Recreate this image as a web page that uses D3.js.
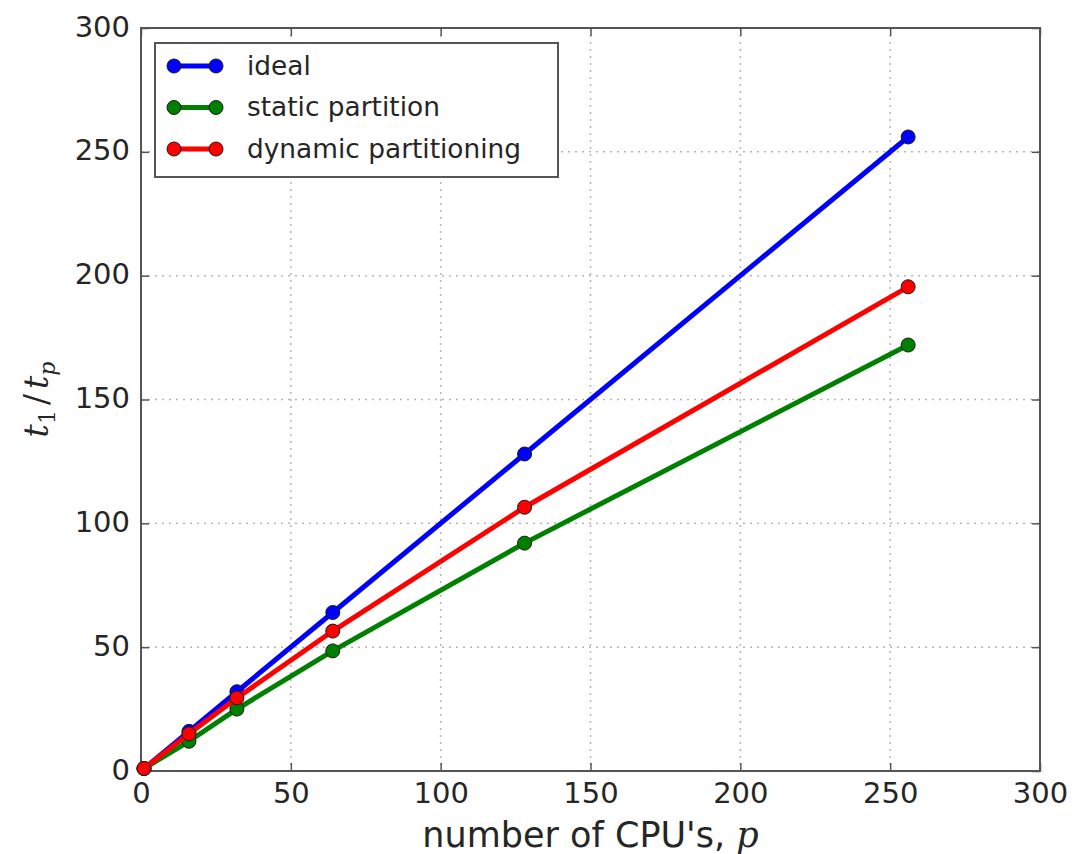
<!DOCTYPE html>
<html>
<head>
<meta charset="utf-8">
<script src="https://cdn.jsdelivr.net/npm/d3@7"></script>
<style>
  html, body { margin: 0; padding: 0; background: #fff; }
  svg { display: block; font-family: "DejaVu Sans", sans-serif; }
</style>
</head>
<body>
<svg id="chart" width="1072" height="854"></svg>
<script>
// Speedup t1/tp versus number of CPUs
const cpus = [1, 16, 32, 64, 128, 256];
const ideal = [1, 16, 32, 64, 128, 256];
const staticPartition = [1, 12, 25, 48.5, 92, 172];
const dynamicPartitioning = [1, 15, 29.5, 56.5, 106.5, 195.5];

const seriesNames = ["ideal", "static partition", "dynamic partitioning"];
const seriesColors = ["#0000ff", "#008000", "#ff0000"];
const xTicks = [0, 50, 100, 150, 200, 250, 300];
const yTicks = [0, 50, 100, 150, 200, 250, 300];

const series = [ideal, staticPartition, dynamicPartitioning].map((vals, i) => ({
  name: seriesNames[i],
  color: seriesColors[i],
  points: vals.map((v, j) => ({ p: cpus[j], s: v }))
}));

const svg = d3.select("#chart");
const plot = { left: 141, right: 1040, top: 28, bottom: 771 };

const x = d3.scaleLinear().domain([0, 300]).range([plot.left, plot.right]);
const y = d3.scaleLinear().domain([0, 300]).range([plot.bottom, plot.top]);

const textColor = "#262626";
const spineColor = "#555";

// dotted grid
const grid = svg.append("g");
grid.selectAll("line.gx").data(xTicks.slice(1, -1)).join("line")
  .attr("x1", d => x(d)).attr("x2", d => x(d))
  .attr("y1", plot.top).attr("y2", plot.bottom)
  .attr("stroke", "#b5b5b5").attr("stroke-width", 1.5)
  .attr("stroke-dasharray", "2,5");
grid.selectAll("line.gy").data(yTicks.slice(1, -1)).join("line")
  .attr("y1", d => y(d)).attr("y2", d => y(d))
  .attr("x1", plot.left).attr("x2", plot.right)
  .attr("stroke", "#b5b5b5").attr("stroke-width", 1.5)
  .attr("stroke-dasharray", "2,5");

// axes with inward ticks on all four sides
function styleAxis(g) {
  g.select(".domain").remove();
  g.selectAll(".tick line").attr("stroke", spineColor).attr("stroke-width", 1.5);
  g.selectAll(".tick text").attr("fill", textColor)
    .style("font-family", "'DejaVu Sans', sans-serif").style("font-size", "29px");
}

svg.append("g").attr("transform", `translate(0,${plot.bottom})`)
  .call(d3.axisBottom(x).tickValues(xTicks).tickFormat(d3.format("d"))
    .tickSizeInner(-8).tickSizeOuter(0).tickPadding(11))
  .call(styleAxis)
  .call(g => g.selectAll(".tick text").attr("dy", "0.71em"));

svg.append("g").attr("transform", `translate(${plot.left},0)`)
  .call(d3.axisLeft(y).tickValues(yTicks).tickFormat(d3.format("d"))
    .tickSizeInner(-8).tickSizeOuter(0).tickPadding(11))
  .call(styleAxis)
  .call(g => g.selectAll(".tick text").attr("dy", "0.28em"));

svg.append("g").attr("transform", `translate(0,${plot.top})`)
  .call(d3.axisTop(x).tickValues(xTicks).tickFormat("").tickSizeInner(-8).tickSizeOuter(0))
  .call(styleAxis);

svg.append("g").attr("transform", `translate(${plot.right},0)`)
  .call(d3.axisRight(y).tickValues(yTicks).tickFormat("").tickSizeInner(-8).tickSizeOuter(0))
  .call(styleAxis);

// frame
svg.append("rect")
  .attr("x", plot.left).attr("y", plot.top)
  .attr("width", plot.right - plot.left).attr("height", plot.bottom - plot.top)
  .attr("fill", "none").attr("stroke", spineColor).attr("stroke-width", 2);

// lines and markers
const line = d3.line().x(d => x(d.p)).y(d => y(d.s));
const marks = svg.append("g");
series.forEach(s => {
  const g = marks.append("g");
  g.append("path").datum(s.points)
    .attr("d", line).attr("fill", "none")
    .attr("stroke", s.color).attr("stroke-width", 5)
    .attr("stroke-linejoin", "round");
  g.selectAll("circle").data(s.points).join("circle")
    .attr("cx", d => x(d.p)).attr("cy", d => y(d.s)).attr("r", 7)
    .attr("fill", s.color).attr("stroke", "#1a1a1a").attr("stroke-width", 1);
});

// legend
const legend = svg.append("g");
legend.append("rect")
  .attr("x", 155).attr("y", 43).attr("width", 403).attr("height", 134)
  .attr("fill", "#fff").attr("stroke", spineColor).attr("stroke-width", 2);
series.forEach((s, i) => {
  const ly = 66 + i * 41.5;
  legend.append("line")
    .attr("x1", 174).attr("x2", 216).attr("y1", ly).attr("y2", ly)
    .attr("stroke", s.color).attr("stroke-width", 5);
  [174, 216].forEach(cx => legend.append("circle")
    .attr("cx", cx).attr("cy", ly).attr("r", 7)
    .attr("fill", s.color).attr("stroke", "#1a1a1a").attr("stroke-width", 1));
  legend.append("text")
    .attr("x", 247).attr("y", ly).attr("dy", "0.33em")
    .attr("fill", textColor).style("font-size", "26.4px")
    .text(s.name);
});

// axis labels
const xl = svg.append("text")
  .attr("x", (plot.left + plot.right) / 2).attr("y", 847)
  .attr("text-anchor", "middle").attr("fill", textColor)
  .style("font-size", "35px");
xl.append("tspan").text("number of CPU's, ");
xl.append("tspan").style("font-family", "'DejaVu Serif', serif")
  .style("font-style", "italic").text("p");

const yl = svg.append("text")
  .attr("transform", `translate(48,${(plot.top + plot.bottom) / 2}) rotate(-90)`)
  .attr("text-anchor", "middle").attr("fill", textColor)
  .style("font-family", "'DejaVu Serif', serif").style("font-size", "33px");
yl.append("tspan").style("font-style", "italic").text("t");
yl.append("tspan").attr("dy", 7).style("font-size", "22px").text("1");
yl.append("tspan").attr("dy", -7).attr("dx", 5).text("/");
yl.append("tspan").attr("dx", 5).style("font-style", "italic").text("t");
yl.append("tspan").attr("dy", 7).style("font-size", "22px").style("font-style", "italic").text("p");
</script>
</body>
</html>
